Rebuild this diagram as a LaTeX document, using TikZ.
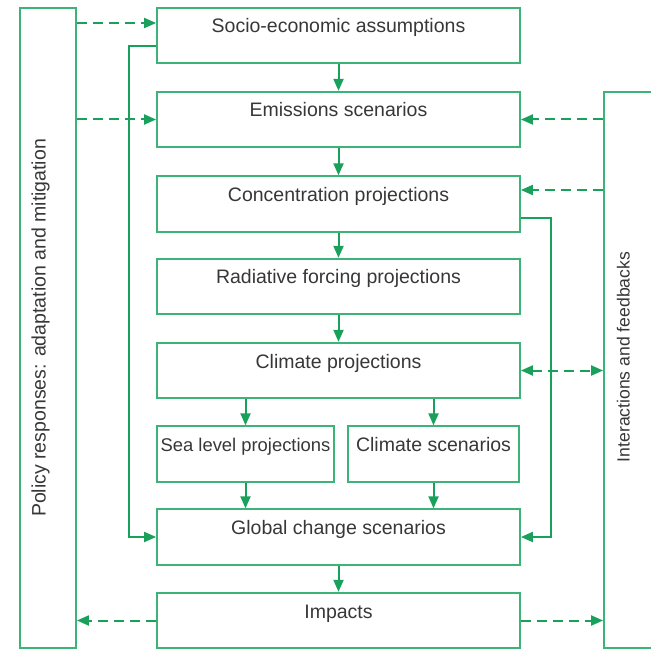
\documentclass[tikz,border=0pt]{standalone}
\usepackage{fontspec}
\setmainfont{Liberation Sans}
\usepackage{tikz}
\usetikzlibrary{calc}
\usetikzlibrary{arrows.meta}
\usepackage{xcolor}
\definecolor{boxgreen}{RGB}{60,180,120}
\definecolor{linkgreen}{RGB}{25,160,90}
\definecolor{textgrey}{RGB}{55,55,55}

\begin{document}
\begin{tikzpicture}[x = .5pt, y = -.5pt, >={Triangle[length=6pt,width=5pt]}]
	\tikzstyle{box}=[draw=boxgreen,line width = .9pt,text=textgrey,font=\fontsize{9.75}{11}\selectfont,inner sep=0pt,minimum height=27.75pt,text height=7pt,text depth=9.5pt]
	\tikzstyle{wide}=[box,minimum width=181.5pt]
	\tikzstyle{side}=[box,rotate=90,minimum height=28pt]
	\tikzstyle{link}=[draw=linkgreen,line width = 1pt,->]
	\tikzstyle{feedback}=[link,dash pattern=on 5pt off 3pt]
	\useasboundingbox (0,0) rectangle (651,657);
	\clip (0,0) rectangle (651,657);
	\node[side,minimum width=320pt] (policy) at (48,328) {Policy responses: adaptation and mitigation};
	\node[side,minimum width=278pt,font=\fontsize{8.8}{10}\selectfont] (feed) at (632,370) {\hspace*{13pt}Interactions and feedbacks};
	\node[wide] (socio) at (338.5,35.5) {Socio-economic assumptions};
	\node[wide] (emis) at (338.5,119.5) {Emissions scenarios};
	\node[wide] (conc) at (338.5,204) {Concentration projections};
	\node[wide] (rad) at (338.5,286.5) {Radiative forcing projections};
	\node[wide] (clim) at (338.5,370.5) {Climate projections};
	\node[box,minimum width=88.5pt,font=\fontsize{9.2}{10}\selectfont] (sea) at (245.5,454) {Sea level projections};
	\node[box,minimum width=85.5pt] (scen) at (433.5,454) {Climate scenarios};
	\node[wide] (global) at (338.5,537) {Global change scenarios};
	\node[wide] (impacts) at (338.5,620.5) {Impacts};
	\coordinate (socio in) at ([yshift=6.25pt]socio.west);
	\coordinate (conc in) at ([yshift=7pt]conc.east);
	\draw[link] (socio) -- (emis);
	\draw[link] (emis) -- (conc);
	\draw[link] (conc) -- (rad);
	\draw[link] (rad) -- (clim);
	\draw[link] (clim.south -| sea.north) -- (sea.north);
	\draw[link] (clim.south -| scen.north) -- (scen.north);
	\draw[link] (sea.south) -- (global.north -| sea.south);
	\draw[link] (scen.south) -- (global.north -| scen.south);
	\draw[link] (global) -- (impacts);
	\draw[link] ([yshift=-5.25pt]socio.west) -- ++(-27,0) |- (global.west);
	\draw[link] ([yshift=-7pt]conc.east) -- ++(30,0) |- (global.east);
	\draw[feedback] (policy.south |- socio in) -- (socio in);
	\draw[feedback] (policy.south |- emis.west) -- (emis.west);
	\draw[feedback] (feed.north |- emis.east) -- (emis.east);
	\draw[feedback] (feed.north |- conc in) -- (conc in);
	\draw[feedback,<->] (clim.east) -- (feed.north |- clim.east);
	\draw[feedback] (impacts.west) -- (policy.south |- impacts.west);
	\draw[feedback] (impacts.east) -- (feed.north |- impacts.east);
\end{tikzpicture}
\end{document}
